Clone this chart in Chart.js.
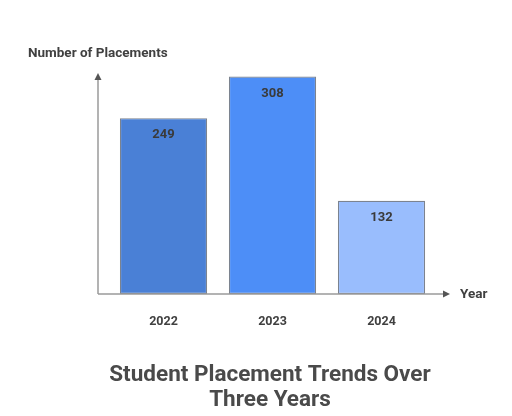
<!DOCTYPE html>
<html>
<head>
<meta charset="utf-8">
<script src="https://cdn.jsdelivr.net/npm/chart.js@4/dist/chart.umd.min.js"></script>
<style>
html,body{margin:0;padding:0;background:#fff;}
#wrap{width:512px;height:416px;position:relative;}
</style>
</head>
<body>
<div id="wrap"><canvas id="c" width="512" height="416"></canvas></div>
<script>
const categories = ["2022", "2023", "2024"];
const placements = [249, 308, 132];
const barColors = ["#4a80d6", "#4d8ef7", "#99bdfd"];
const yAxisTitle = "Number of Placements";
const xAxisTitle = "Year";
const chartTitle = ["Student Placement Trends Over", "Three Years"];

const FONT = "Roboto, 'Noto Sans', Arial, sans-serif";

const decor = {
  id: "decor",
  afterDatasetsDraw(chart) {
    const ctx = chart.ctx;
    const xs = chart.scales.x, ys = chart.scales.y;
    const base = ys.getPixelForValue(0);
    const axL = 98, axR = 450, axTop = 73;
    ctx.save();
    // axes lines
    ctx.strokeStyle = "#9a9a9a";
    ctx.lineWidth = 1.5;
    ctx.beginPath();
    ctx.moveTo(axL, base); ctx.lineTo(axR - 4, base);
    ctx.moveTo(axL, base); ctx.lineTo(axL, axTop + 4);
    ctx.stroke();
    // arrows
    ctx.fillStyle = "#555";
    ctx.beginPath();
    ctx.moveTo(axL, axTop); ctx.lineTo(axL - 3.5, axTop + 7); ctx.lineTo(axL + 3.5, axTop + 7); ctx.closePath();
    ctx.fill();
    ctx.beginPath();
    ctx.moveTo(axR, base); ctx.lineTo(axR - 7, base - 3.5); ctx.lineTo(axR - 7, base + 3.5); ctx.closePath();
    ctx.fill();
    // axis titles
    ctx.fillStyle = "#404040";
    ctx.font = "bold 13.5px " + FONT;
    ctx.textBaseline = "middle";
    ctx.textAlign = "left";
    ctx.fillText(yAxisTitle, 28, 54);
    ctx.fillText(xAxisTitle, 460, base + 1);
    // tick labels
    ctx.textAlign = "center";
    ctx.font = "bold 12.5px " + FONT;
    categories.forEach((c, i) => {
      ctx.fillText(c, xs.getPixelForValue(i), 322);
    });
    // value labels
    const meta = chart.getDatasetMeta(0);
    ctx.font = "bold 13px " + FONT;
    ctx.fillStyle = "#3a3a3a";
    meta.data.forEach((bar, i) => {
      ctx.fillText(String(placements[i]), bar.x, bar.y + 17);
    });
    // chart title
    ctx.fillStyle = "#4a4a4a";
    ctx.font = "bold 22.5px " + FONT;
    chartTitle.forEach((t, i) => {
      ctx.fillText(t, 270, 375 + i * 25);
    });
    ctx.restore();
  }
};

new Chart(document.getElementById("c"), {
  type: "bar",
  data: {
    labels: categories,
    datasets: [{
      data: placements,
      backgroundColor: barColors,
      borderColor: "rgba(80,90,105,0.75)",
      borderWidth: 1.2,
      borderSkipped: false,
      barPercentage: 0.8,
      categoryPercentage: 1.0
    }]
  },
  options: {
    responsive: false,
    animation: false,
    events: [],
    layout: { padding: { left: 109, right: 76, top: 68, bottom: 122 } },
    plugins: { legend: { display: false }, title: { display: false }, tooltip: { enabled: false } },
    scales: {
      x: { display: false },
      y: { display: false, min: 0, max: 320 }
    }
  },
  plugins: [decor]
});
</script>
</body>
</html>
